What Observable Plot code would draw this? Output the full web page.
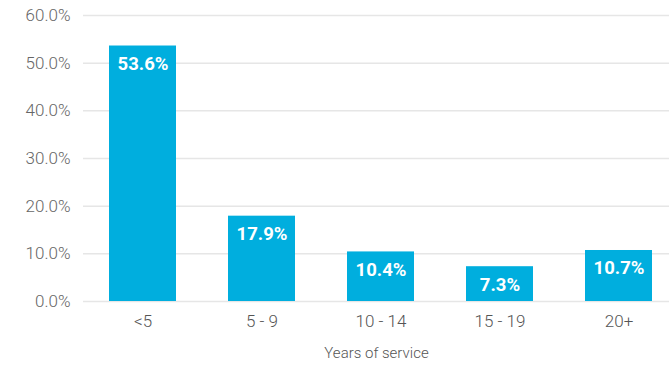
<!DOCTYPE html>
<html>
<head>
<meta charset="utf-8">
<script src="https://cdn.jsdelivr.net/npm/d3@7"></script>
<script src="https://cdn.jsdelivr.net/npm/@observablehq/plot@0.6"></script>
<style>
  html, body { margin: 0; padding: 0; background: #fff; }
  #chart svg { display: block; }
</style>
</head>
<body>
<div id="chart"></div>
<script>
const categories = ["<5", "5 - 9", "10 - 14", "15 - 19", "20+"];
const values = [53.6, 17.9, 10.4, 7.3, 10.7];
const yTicks = [0, 10, 20, 30, 40, 50, 60];
const xLabel = "Years of service";

const data = categories.map((c, i) => ({ cat: c, value: values[i] }));

const chart = Plot.plot({
  width: 669,
  height: 366,
  marginLeft: 83,
  marginRight: 0,
  marginTop: 15,
  marginBottom: 65,
  style: { fontFamily: "Roboto, sans-serif", background: "#fff" },
  x: { domain: categories, range: [83, 678], paddingInner: 0.44, paddingOuter: 0.22, label: null },
  y: { domain: [0, 60], label: null },
  marks: [
    Plot.ruleY(yTicks, { stroke: "#e6e6e6", strokeWidth: 1.5 }),
    Plot.barY(data, { x: "cat", y: "value", fill: "#00aede" }),
    Plot.text(data, {
      x: "cat", y: "value", text: d => d.value.toFixed(1) + "%",
      dy: 18, fill: "white", fontWeight: "bold", fontSize: 18.5,
      fontFamily: "Roboto, sans-serif"
    }),
    Plot.axisY({
      ticks: yTicks, tickSize: 0, tickPadding: 13, tickFormat: d => d.toFixed(1) + "%",
      fontSize: 17, fontWeight: 300, fill: "#666", label: null
    }),
    Plot.axisX({
      tickSize: 0, tickPadding: 13, fontSize: 17, fontWeight: 300, fill: "#555", label: null
    }),
    Plot.text([xLabel], {
      frameAnchor: "bottom", dy: 56, text: d => d, fontSize: 15, fontWeight: 300, fill: "#555"
    })
  ]
});
document.getElementById("chart").appendChild(chart);
</script>
</body>
</html>
